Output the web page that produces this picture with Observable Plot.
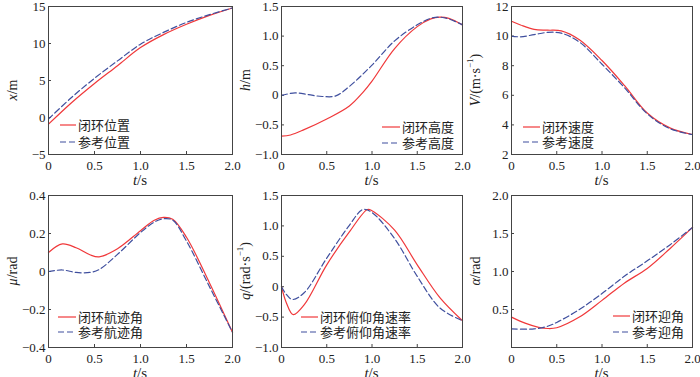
<!DOCTYPE html>
<html><head><meta charset="utf-8">
<script src="https://cdn.jsdelivr.net/npm/d3@7"></script>
<script src="https://cdn.jsdelivr.net/npm/@observablehq/plot@0.6"></script>
<style>
html,body{margin:0;padding:0;background:#fff;}
#root{position:relative;width:700px;height:377px;overflow:hidden;background:#fff;}
#root svg{position:absolute;overflow:visible;}
</style></head><body>
<div id="root"></div>
<script>
// ---------- data ----------
const xTicks = [0, 0.5, 1, 1.5, 2];

// panel 1: x/m
const tX = [0, 0.25, 0.5, 0.75, 1.0, 1.25, 1.5, 1.75, 2.0];
const xRed = [-0.9, 2.0, 4.6, 7.0, 9.45, 11.2, 12.6, 13.8, 14.8];
const xBlue = [-0.2, 2.7, 5.3, 7.65, 9.9, 11.5, 12.85, 13.9, 14.8];
const xYTicks = [-5, 0, 5, 10, 15];

// panel 2: h/m
const tH = [0, 0.1, 0.25, 0.5, 0.75, 0.9, 1.0, 1.25, 1.5, 1.65, 1.75, 1.85, 2.0];
const hRed = [-0.69, -0.67, -0.58, -0.40, -0.18, 0.05, 0.24, 0.79, 1.16, 1.29, 1.32, 1.30, 1.19];
const tHb = [0, 0.15, 0.3, 0.45, 0.6, 0.75, 1.0, 1.25, 1.5, 1.65, 1.75, 1.85, 2.0];
const hBlue = [0, 0.04, 0.01, -0.02, -0.01, 0.15, 0.51, 0.92, 1.19, 1.30, 1.32, 1.29, 1.19];
const hYTicks = [-1, -0.5, 0, 0.5, 1, 1.5];

// panel 3: V
const tV = [0, 0.1, 0.25, 0.4, 0.55, 0.75, 1.0, 1.25, 1.5, 1.75, 2.0];
const vRed = [11.0, 10.75, 10.45, 10.4, 10.35, 9.75, 8.35, 6.65, 4.8, 3.8, 3.35];
const vBlue = [10.0, 9.95, 10.1, 10.25, 10.2, 9.6, 8.1, 6.5, 4.75, 3.75, 3.35];
const vYTicks = [2, 4, 6, 8, 10, 12];

// panel 4: mu
const tMu = [0, 0.15, 0.3, 0.45, 0.55, 0.75, 1.0, 1.15, 1.25, 1.35, 1.5, 1.75, 2.0];
const muRed = [0.10, 0.145, 0.125, 0.088, 0.077, 0.12, 0.215, 0.27, 0.285, 0.275, 0.18, -0.06, -0.32];
const muBlue = [0.0, 0.008, -0.005, -0.005, 0.01, 0.09, 0.205, 0.26, 0.278, 0.27, 0.16, -0.08, -0.32];
const muYTicks = [-0.4, -0.2, 0, 0.2, 0.4];

// panel 5: q
const tQr = [0, 0.05, 0.13, 0.25, 0.5, 0.75, 0.95, 1.0, 1.25, 1.5, 1.75, 2.0];
const qRed = [0, -0.25, -0.46, -0.3, 0.36, 0.9, 1.27, 1.25, 0.93, 0.36, -0.18, -0.56];
const tQb = [0, 0.05, 0.12, 0.25, 0.5, 0.75, 0.9, 1.0, 1.25, 1.5, 1.75, 2.0];
const qBlue = [0, -0.12, -0.21, -0.1, 0.47, 1.01, 1.27, 1.22, 0.79, 0.17, -0.35, -0.56];
const qYTicks = [-1, -0.5, 0, 0.5, 1, 1.5];

// panel 6: alpha
const tAr = [0, 0.15, 0.3, 0.4, 0.5, 0.75, 1.0, 1.25, 1.5, 1.75, 2.0];
const aRed = [0.40, 0.32, 0.265, 0.25, 0.26, 0.40, 0.62, 0.85, 1.04, 1.30, 1.58];
const tAb = [0, 0.25, 0.4, 0.5, 0.75, 1.0, 1.25, 1.5, 1.75, 2.0];
const aBlue = [0.245, 0.245, 0.28, 0.33, 0.50, 0.71, 0.94, 1.14, 1.35, 1.58];
const aYTicks = [0.5, 1, 1.5, 2];

const legendRed = ["闭环位置", "闭环高度", "闭环速度", "闭环航迹角", "闭环俯仰角速率", "闭环迎角"];
const legendBlue = ["参考位置", "参考高度", "参考速度", "参考航迹角", "参考俯仰角速率", "参考迎角"];

// ---------- styles / layout ----------
const RED = "#f0383a";
const BLUE = "#3f4f9e";
const FONT = "'Liberation Serif','Times New Roman','Noto Sans CJK SC',serif";
const zip = (t, v) => t.map((d, i) => ({t: d, v: v[i]}));
const minus = s => s.replace("-", "\u2212");
const fmt1 = d => d === 0 ? "0" : minus(d.toFixed(1));
const fmt0 = d => minus(String(d));

const cols = [{left: 0, fw: 184, mr: 1}, {left: 233, fw: 181, mr: 1}, {left: 463, fw: 181, mr: 8}];
const rows = [{top: 0, mt: 6, fh: 148, h: 189}, {top: 189, mt: 6, fh: 152, h: 188}];
const ML = 48;

const panels = [
  {r: 0, c: 0, red: zip(tX, xRed), blue: zip(tX, xBlue), dom: [-5, 15], ticks: xYTicks, fmt: fmt0,
   ylab: [["x", true], ["/m", false]], ylDy: 10, leg: {lx: 12, tx: 30, y1: -29, y2: -12}},
  {r: 0, c: 1, red: zip(tH, hRed), blue: zip(tHb, hBlue), dom: [-1, 1.5], ticks: hYTicks, fmt: fmt1,
   ylab: [["h", true], ["/m", false]], ylDy: 0, leg: {lx: 101, tx: 121, y1: -27, y2: -11}},
  {r: 0, c: 2, red: zip(tV, vRed), blue: zip(tV, vBlue), dom: [2, 12], ticks: vYTicks, fmt: fmt0,
   ylab: [["V", true], ["/(m·s", false], ["−1", false, "sup"], [")", false]], ylDy: 0, leg: {lx: 12, tx: 31, y1: -27, y2: -12}},
  {r: 1, c: 0, red: zip(tMu, muRed), blue: zip(tMu, muBlue), dom: [-0.4, 0.4], ticks: muYTicks, fmt: fmt1,
   ylab: [["μ", true], ["/rad", false]], ylDy: 0, leg: {lx: 10, tx: 30, y1: -30, y2: -15}},
  {r: 1, c: 1, red: zip(tQr, qRed), blue: zip(tQb, qBlue), dom: [-1, 1.5], ticks: qYTicks, fmt: fmt1,
   ylab: [["q", true], ["/(rad·s", false], ["−1", false, "sup"], [")", false]], ylDy: 0, leg: {lx: 20, tx: 39, y1: -30, y2: -15}},
  {r: 1, c: 2, red: zip(tAr, aRed), blue: zip(tAb, aBlue), dom: [0, 2], ticks: aYTicks, fmt: fmt1,
   ylab: [["α", true], ["/rad", false]], ylDy: 0, leg: {lx: 102, tx: 121, y1: -31, y2: -15}}
];

const root = document.getElementById("root");

panels.forEach((p, i) => {
  const col = cols[p.c], row = rows[p.r];
  const width = ML + col.fw + col.mr;
  const mb = row.h - row.mt - row.fh;
  const svg = Plot.plot({
    width, height: row.h,
    marginLeft: ML, marginRight: col.mr, marginTop: row.mt, marginBottom: mb,
    style: {fontFamily: FONT, fontSize: "13px", color: "#222", background: "transparent", overflow: "visible"},
    x: {domain: [0, 2]},
    y: {domain: p.dom},
    marks: [
      Plot.axisX({ticks: xTicks, tickFormat: fmt1, tickSize: -3, tickPadding: 9, label: null, stroke: "#444"}),
      Plot.axisY({ticks: p.ticks, tickFormat: p.fmt, tickSize: -3, tickPadding: 6, label: null, stroke: "#444"}),
      Plot.line(p.red, {x: "t", y: "v", stroke: RED, strokeWidth: 1.2, curve: "catmull-rom"}),
      Plot.line(p.blue, {x: "t", y: "v", stroke: BLUE, strokeWidth: 1.2, strokeDasharray: "6,3", curve: "catmull-rom"}),
      Plot.frame({stroke: "#444", strokeWidth: 1})
    ]
  });
  svg.style.left = col.left + "px";
  svg.style.top = row.top + "px";
  root.appendChild(svg);

  const s = d3.select(svg);
  const fL = ML, fR = ML + col.fw, fT = row.mt, fB = row.mt + row.fh;

  // x-axis title t/s
  const xt = s.append("text").attr("x", (fL + fR) / 2).attr("y", fB + 31)
    .attr("text-anchor", "middle").attr("font-size", 15).attr("fill", "#222").attr("font-family", FONT);
  xt.append("tspan").attr("font-style", "italic").text("t");
  xt.append("tspan").text("/s");

  // y-axis title
  const cy = (fT + fB) / 2 + p.ylDy;
  const yt = s.append("text").attr("transform", `translate(${12},${cy}) rotate(-90)`)
    .attr("text-anchor", "middle").attr("dominant-baseline", "central")
    .attr("font-size", 14).attr("fill", "#222").attr("font-family", FONT);
  p.ylab.forEach(([txt, it, sup], k) => {
    const ts = yt.append("tspan").text(txt);
    if (it) ts.attr("font-style", "italic");
    if (sup) ts.attr("font-size", 9).attr("dy", -5);
    else if (k > 0 && p.ylab[k - 1][2]) ts.attr("dy", 5);
  });

  // legend
  const L = p.leg;
  [[legendRed[i], RED, null, L.y1], [legendBlue[i], BLUE, "6,3", L.y2]].forEach(([label, color, dash, dy]) => {
    const yy = fB + dy;
    const ln = s.append("line").attr("x1", fL + L.lx).attr("x2", fL + L.tx - 2)
      .attr("y1", yy).attr("y2", yy).attr("stroke", color).attr("stroke-width", 1.2);
    if (dash) ln.attr("stroke-dasharray", dash);
    s.append("text").attr("x", fL + L.tx).attr("y", yy).attr("text-anchor", "start")
      .attr("dominant-baseline", "central")
      .attr("font-size", 13).attr("fill", "#222").attr("font-family", FONT).text(label);
  });
});
</script>
</body></html>
